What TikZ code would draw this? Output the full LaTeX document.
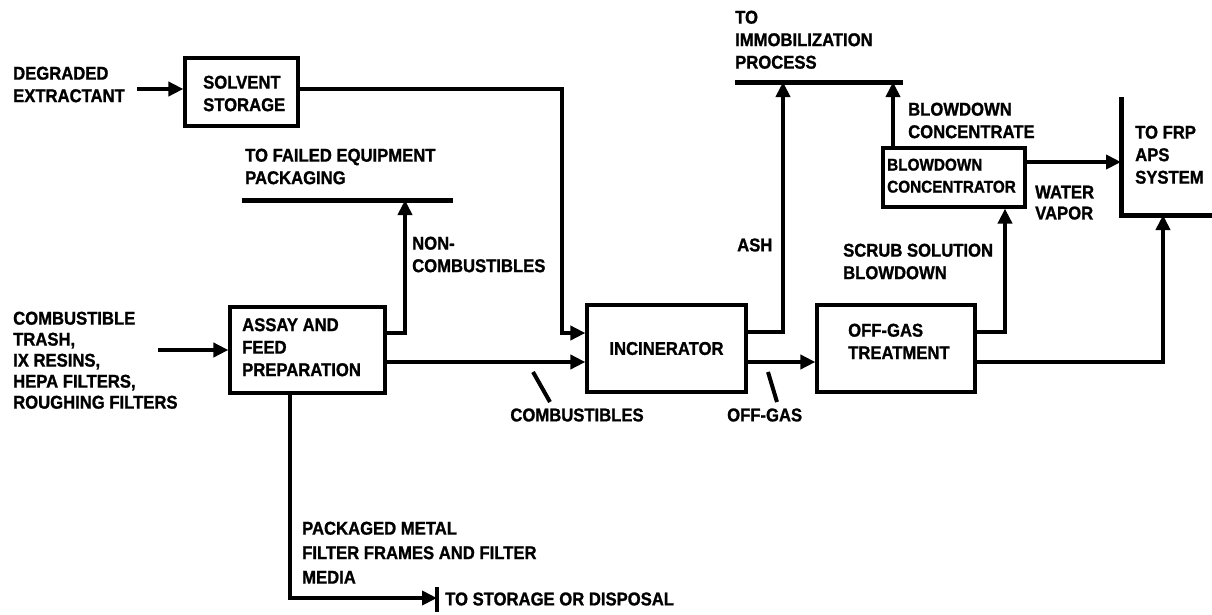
\documentclass[tikz,border=0pt]{standalone}
\usepackage{fontspec}
\setmainfont{Liberation Sans}[FakeStretch=0.9, BoldFeatures={FakeBold=1.2}]
\usetikzlibrary{arrows.meta}
\begin{document}
\begin{tikzpicture}[x=1pt,y=-1pt,
  every node/.style={font=\bfseries\fontsize{18.5}{22.5}\selectfont, inner sep=0pt},
  lbl/.style={anchor=north west, align=left},
  lblw/.style={anchor=west},
  box/.style={draw, line width=3.2pt, minimum width=#1},
  flow/.style={line width=4.8pt, -{Triangle[length=15pt,width=14pt]}},
  bar/.style={line width=5pt},
  tick/.style={line width=4pt}]
\useasboundingbox (0,0) rectangle (1212,614);

% boxes
\node[box=113pt, minimum height=68pt] (solvent) at (241.5,92) {};
\node[box=155pt, minimum height=86pt] (assay) at (307.5,350) {};
\node[box=159pt, minimum height=87pt] (inc) at (666.5,348.5) {};
\node[box=158pt, minimum height=87pt] (ogt) at (896,348.5) {};
\node[box=142pt, minimum height=59pt] (bdc) at (954,177.5) {};

% box texts
\node[lbl] (tsolv) at (203,75.5) {SOLVENT\\STORAGE};
\node[lbl] (tassay) at (242,318) {ASSAY AND\\FEED\\PREPARATION};
\node (tinc) at (666.5,348.5) {INCINERATOR};
\node[lbl] (togt) at (848,323.5) {OFF-GAS\\TREATMENT};
\node[lbl, font=\bfseries\fontsize{17}{22}\selectfont] (tbdc) at (887,158.5) {BLOWDOWN\\CONCENTRATOR};

% free labels
\node[lbl] (tdeg) at (13,66.5) {DEGRADED\\EXTRACTANT};
\node[lbl] (tfail) at (245,148.5) {TO FAILED EQUIPMENT\\PACKAGING};
\node[lbl] (tnon) at (412,236.5) {NON-\\COMBUSTIBLES};
\node[lbl, font=\bfseries\fontsize{18.5}{21}\selectfont] (tcomb) at (13,311.5) {COMBUSTIBLE\\TRASH,\\IX RESINS,\\HEPA FILTERS,\\ROUGHING FILTERS};
\node (tcombs) at (577,415) {COMBUSTIBLES};
\node[lblw] (toff) at (727,415) {OFF-GAS};
\node[lblw] (tash) at (737,245) {ASH};
\node[lbl] (timm) at (735,10.5) {TO\\IMMOBILIZATION\\PROCESS};
\node[lbl] (tbdcc) at (908,102.5) {BLOWDOWN\\CONCENTRATE};
\node[lbl] (tscrub) at (843,243.5) {SCRUB SOLUTION\\BLOWDOWN};
\node[lbl, font=\bfseries\fontsize{18.5}{21}\selectfont] (twater) at (1035,185.5) {WATER\\VAPOR};
\node[lbl] (tfrp) at (1135,125.5) {TO FRP\\APS\\SYSTEM};
\node[lbl, font=\bfseries\fontsize{18.5}{24.5}\selectfont] (tpack) at (302,521.5) {PACKAGED METAL\\FILTER FRAMES AND FILTER\\MEDIA};
\node[lblw] (tstore) at (445,599) {TO STORAGE OR DISPOSAL};

% destination bars
\coordinate (fe1) at (242,200);
\coordinate (fe2) at (453,200);
\draw[bar] (fe1) -- (fe2);
\coordinate (im1) at (735,82);
\coordinate (im2) at (903,82);
\draw[bar] (im1) -- (im2);
\coordinate (frp1) at (1121,97);
\coordinate (frp2) at (1121,215);
\coordinate (frp3) at (1212,215);
\draw[bar] (frp1) -- (frp2) -- (frp3);
\coordinate (st1) at (437,587);
\coordinate (st2) at (437,612);
\draw[line width=4pt] (st1) -- (st2);

% inputs
\coordinate (degin) at (137,89);
\draw[flow] (degin) -- (degin -| solvent.west);
\coordinate (combin) at (158,350);
\draw[flow] (combin) -- (assay.west);

% flows
\draw[flow] (solvent.east |- degin) -- (562,89) -- (562,333) -- (inc.west |- 0,333);
\draw[flow] (assay.east |- 0,333) -- (405,333) -- (405,0 |- fe1);
\draw[flow] (assay.east |- 0,362) -- (inc.west |- 0,362);
\draw[flow] (assay.south -| 290,0) -- (290,598) -- (st1 |- 0,598);
\draw[flow] (inc.east |- 0,332) -- (783,332) -- (783,0 |- im1);
\draw[flow] (inc.east |- 0,362) -- (ogt.west |- 0,362);
\draw[flow] (ogt.east |- 0,332) -- (1005,332) -- (bdc.south -| 1005,0);
\draw[flow] (ogt.east |- 0,362) -- (1163,362) -- (1163,0 |- frp2);
\draw[flow] (bdc.east |- 0,162) -- (frp1 |- 0,162);
\draw[flow] (bdc.north -| 893,0) -- (893,0 |- im1);

% label ticks
\coordinate (tk1) at (533,372);
\coordinate (tk2) at (550,402);
\draw[tick] (tk1) -- (tk2);
\coordinate (tk3) at (768,372);
\coordinate (tk4) at (777,402);
\draw[tick] (tk3) -- (tk4);
\end{tikzpicture}
\end{document}
